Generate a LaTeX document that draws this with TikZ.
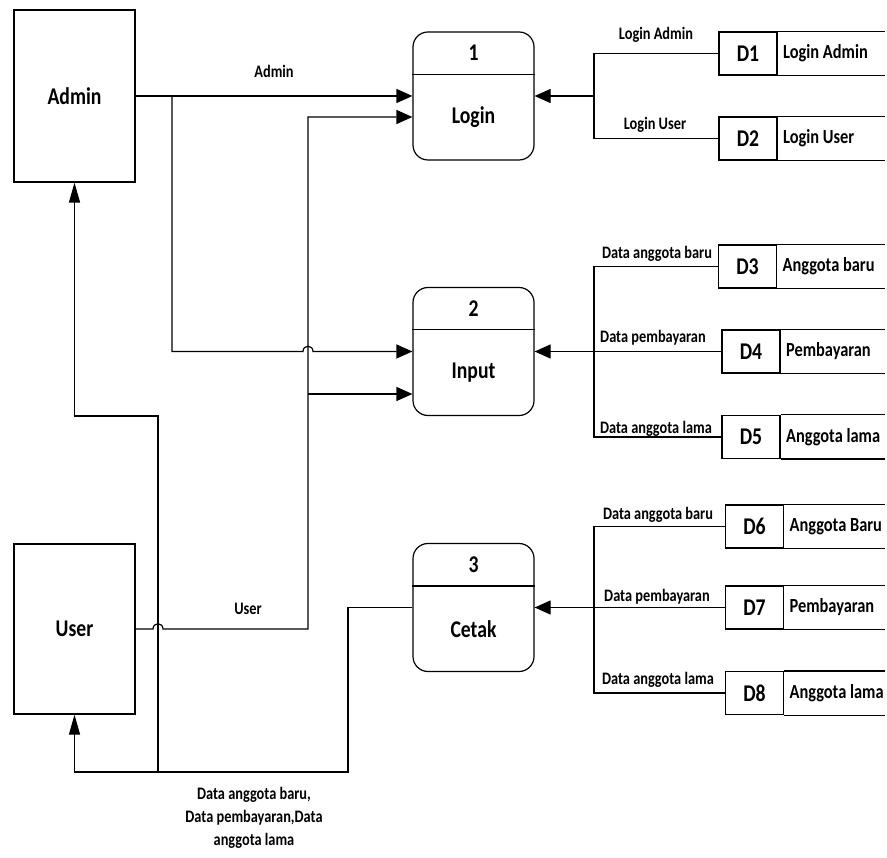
\documentclass[tikz,border=0pt]{standalone}
\usepackage{fontspec}
\setmainfont{Carlito}[FakeStretch=0.82]
\usetikzlibrary{arrows.meta}

\newcommand{\dfdbig}{\fontsize{24}{26}\selectfont\bfseries}
\newcommand{\dfdstore}{\fontsize{20}{22}\selectfont\bfseries}
\newcommand{\dfdlbl}{\fontsize{17.5}{23}\selectfont\bfseries}

\begin{document}
\begin{tikzpicture}[
    x=1pt, y=-1pt,
    ent/.style={draw, line width=1.2pt, minimum width=121pt, font=\dfdbig},
    proc/.style={draw, line width=1.2pt, rounded corners=15pt, minimum width=121pt, minimum height=128pt},
    sid/.style={draw, line width=1.2pt, minimum width=58pt, minimum height=43pt, font=\dfdbig},
    flow/.style={line width=1.2pt},
    lbl/.style={font=\dfdlbl, inner sep=1pt},
    uphead/.style={-{Triangle[length=20pt,width=11pt]}},
    >={Triangle[length=16pt,width=14pt]}
]
\useasboundingbox (0,0) rectangle (887,858);

% entities
\node[ent, minimum height=172pt] (admin) at (74.5,96) {Admin};
\node[ent, minimum height=170pt] (user) at (74.5,629) {User};

% processes
\foreach \nm/\num/\txt/\y in {login/1/Login/96, input/2/Input/351.5, cetak/3/Cetak/607.5} {
  \node[proc] (\nm) at (473.5,\y) {};
  \draw[flow] ([yshift=-43pt]\nm.north west) -- ([yshift=-43pt]\nm.north east);
  \node[font=\dfdbig] (\nm-num) at ([yshift=-21.5pt]\nm.north) {\num};
  \node[font=\dfdbig] (\nm-txt) at ([yshift=-21.5pt]\nm.center) {\txt};
}

% data stores
\foreach \sid/\x/\y/\txt [count=\n] in {D1/748/53.5/Login Admin, D2/748/138.5/Login User,
    D3/747.5/266.5/Anggota baru, D4/751/351.5/Pembayaran, D5/751/437/Anggota lama,
    D6/754.5/526.5/Anggota Baru, D7/754.5/607.5/Pembayaran, D8/754.5/693/Anggota lama} {
  \node[sid] (d\n) at (\x,\y) {\sid};
  \coordinate (e\n) at (885,\y);
  \draw[flow] (d\n.north east) -- (d\n.north east -| e\n);
  \draw[flow] (d\n.south east) -- (d\n.south east -| e\n);
  \node[font=\dfdstore, anchor=west, xshift=2pt] (t\n) at (d\n.east) {\txt};
}

% store flows
\coordinate (j1) at (594,96);
\coordinate (j2) at (594,351.5);
\coordinate (j3) at (594,607.5);
\draw[flow] (d1.west) -| (j1) |- (d2.west);
\draw[flow,->] (j1) -- (login.east);
\draw[flow] (d3.west) -| (j2) |- (d5.west);
\draw[flow] (d4.west) -- (j2);
\draw[flow,->] (j2) -- (input.east);
\draw[flow] (d6.west) -| (j3) |- (d8.west);
\draw[flow] (d7.west) -- (j3);
\draw[flow,->] (j3) -- (cetak.east);

\foreach \x/\y/\txt [count=\n] in {656/35/Login Admin, 655/125/Login User,
    657/254/Data anggota baru, 653/338/Data pembayaran, 656/429/Data anggota lama,
    658/515/Data anggota baru, 657/597/Data pembayaran, 658/680/Data anggota lama} {
  \node[lbl] (fl\n) at (\x,\y) {\txt};
}

% admin / user flows
\draw[flow,->] (admin.east) -- (login.west);
\node[lbl] (admlbl) at (274,71) {Admin};
\coordinate (a1) at (172,96);
\draw[flow,->] (a1) |- (303,351.5) .. controls (303,344.5) and (313,344.5) .. (313,351.5) -- (input.west);

\coordinate (u1) at (308,394);
\draw[flow,->] (user.east) -- (153,629) .. controls (153,622) and (163,622) .. (163,629)
  -- (308,629) -- (308,117) -- ([yshift=-21pt]login.west);
\draw[flow,->] (u1) -- ([yshift=-42.5pt]input.west);
\node[lbl] (usrlbl) at (248,609) {User};

% cetak output
\coordinate (b1) at (158,772);
\draw[flow,uphead] (cetak.west) -| (348,772) -| (user.south);
\draw[flow,uphead] (b1) -- (158,416) -| (admin.south);
\node[lbl, align=center] (outlbl) at (254,818) {Data anggota baru,\\Data pembayaran,Data\\anggota lama};

\end{tikzpicture}
\end{document}
